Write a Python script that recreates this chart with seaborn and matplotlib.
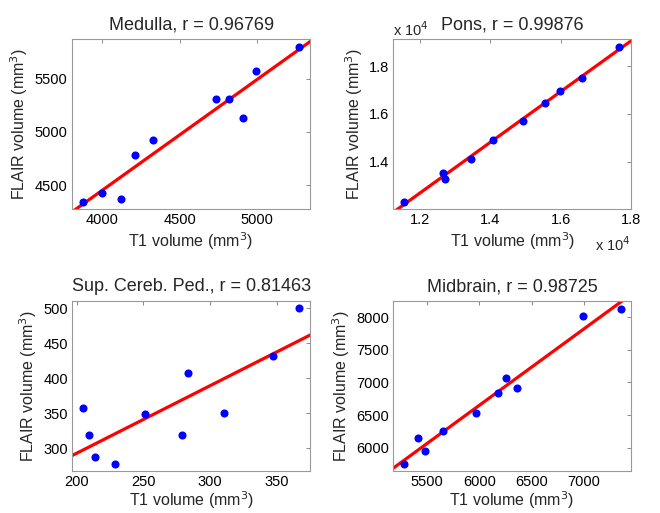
import numpy as np
import pandas as pd
import matplotlib
matplotlib.use("Agg")
import matplotlib.pyplot as plt
import matplotlib.ticker as mticker
import seaborn as sns

# values (T1 vs FLAIR volumes, mm^3)
medulla_t1 = [3874, 3996, 4123, 4211, 4327, 4732, 4819, 4912, 4994, 5269]
medulla_flair = [4342, 4426, 4373, 4784, 4928, 5313, 5313, 5132, 5574, 5803]

pons_t1 = [11547, 12643, 12708, 13445, 14077, 14926, 15550, 15975, 16598, 17674]
pons_flair = [12321, 13533, 13296, 14105, 14899, 15693, 16460, 16976, 17505, 18801]

scp_t1 = [204.5, 209.2, 214.0, 228.7, 251.0, 279.1, 283.6, 310.1, 346.8, 366.5]
scp_flair = [357.1, 319.0, 287.1, 278.1, 349.0, 319.5, 407.6, 350.0, 431.9, 500.0]

midbrain_t1 = [5280, 5414, 5484, 5650, 5971, 6178, 6258, 6357, 6991, 7351]
midbrain_flair = [5755, 6153, 5944, 6250, 6536, 6832, 7061, 6908, 8026, 8128]

titles = ["Medulla, r = 0.96769", "Pons, r = 0.99876",
          "Sup. Cereb. Ped., r = 0.81463", "Midbrain, r = 0.98725"]

sns.set_style("white")
plt.rcParams['font.family'] = ['Liberation Sans', 'DejaVu Sans']

fig = plt.figure(figsize=(6.6, 5.13), dpi=100)

rects = [
    [0.1086, 0.592, 0.3618, 0.3314],
    [0.5959, 0.592, 0.3601, 0.3314],
    [0.1095, 0.0819, 0.3603, 0.3314],
    [0.5959, 0.0819, 0.3598, 0.3314],
]

panels = [
    (medulla_t1, medulla_flair, (3803, 5345), (4273, 5871),
     [4000, 4500, 5000], [4500, 5000, 5500]),
    (pons_t1, pons_flair, (11244, 18000), (12014, 19122),
     [12000, 14000, 16000, 18000], [14000, 16000, 18000]),
    (scp_t1, scp_flair, (196.8, 374.7), (267.6, 510.5),
     [200, 250, 300, 350], [300, 350, 400, 450, 500]),
    (midbrain_t1, midbrain_flair, (5178, 7446), (5640, 8252),
     [5500, 6000, 6500, 7000], [6000, 6500, 7000, 7500, 8000]),
]

for i, (t1, flair, xl, yl, xt, yt) in enumerate(panels):
    ax = fig.add_axes(rects[i])
    df = pd.DataFrame({'T1': t1, 'FLAIR': flair})
    ax.set_xlim(xl)
    ax.set_ylim(yl)
    sns.regplot(data=df, x='T1', y='FLAIR', ax=ax, ci=None, truncate=False,
                scatter_kws={'color': '#0000ff', 's': 34, 'linewidths': 0, 'alpha': 1, 'zorder': 3},
                line_kws={'color': '#ff0000', 'lw': 2.3, 'zorder': 2})
    ax.set_xlim(xl)
    ax.set_ylim(yl)
    ax.set_xticks(xt)
    ax.set_yticks(yt)
    ax.set_title(titles[i], fontsize=13, pad=7)
    # bottom row sits close to the figure edge, keep its label tight
    lp = 2 if i < 2 else 0
    ax.set_xlabel('T1 volume (mm$^3$)', fontsize=11.5, labelpad=lp)
    ax.set_ylabel('FLAIR volume (mm$^3$)', fontsize=11.5, labelpad=3)
    ax.tick_params(direction='in', length=3, width=0.6, labelsize=10.5,
                   top=True, right=True, colors='#777777', labelcolor='black', pad=3)
    for s in ax.spines.values():
        s.set_color('#999999')
        s.set_linewidth(0.8)
    if i == 1:
        fmt = mticker.FuncFormatter(lambda v, p: f"{v / 1e4:.1f}")
        ax.xaxis.set_major_formatter(fmt)
        ax.yaxis.set_major_formatter(fmt)
        ax.text(1.0, -0.21, 'x 10$^4$', transform=ax.transAxes, ha='right', va='center', fontsize=10.5)
        ax.text(0.0, 1.055, 'x 10$^4$', transform=ax.transAxes, ha='left', va='center', fontsize=10.5)

plt.savefig('out.png', dpi=100)
